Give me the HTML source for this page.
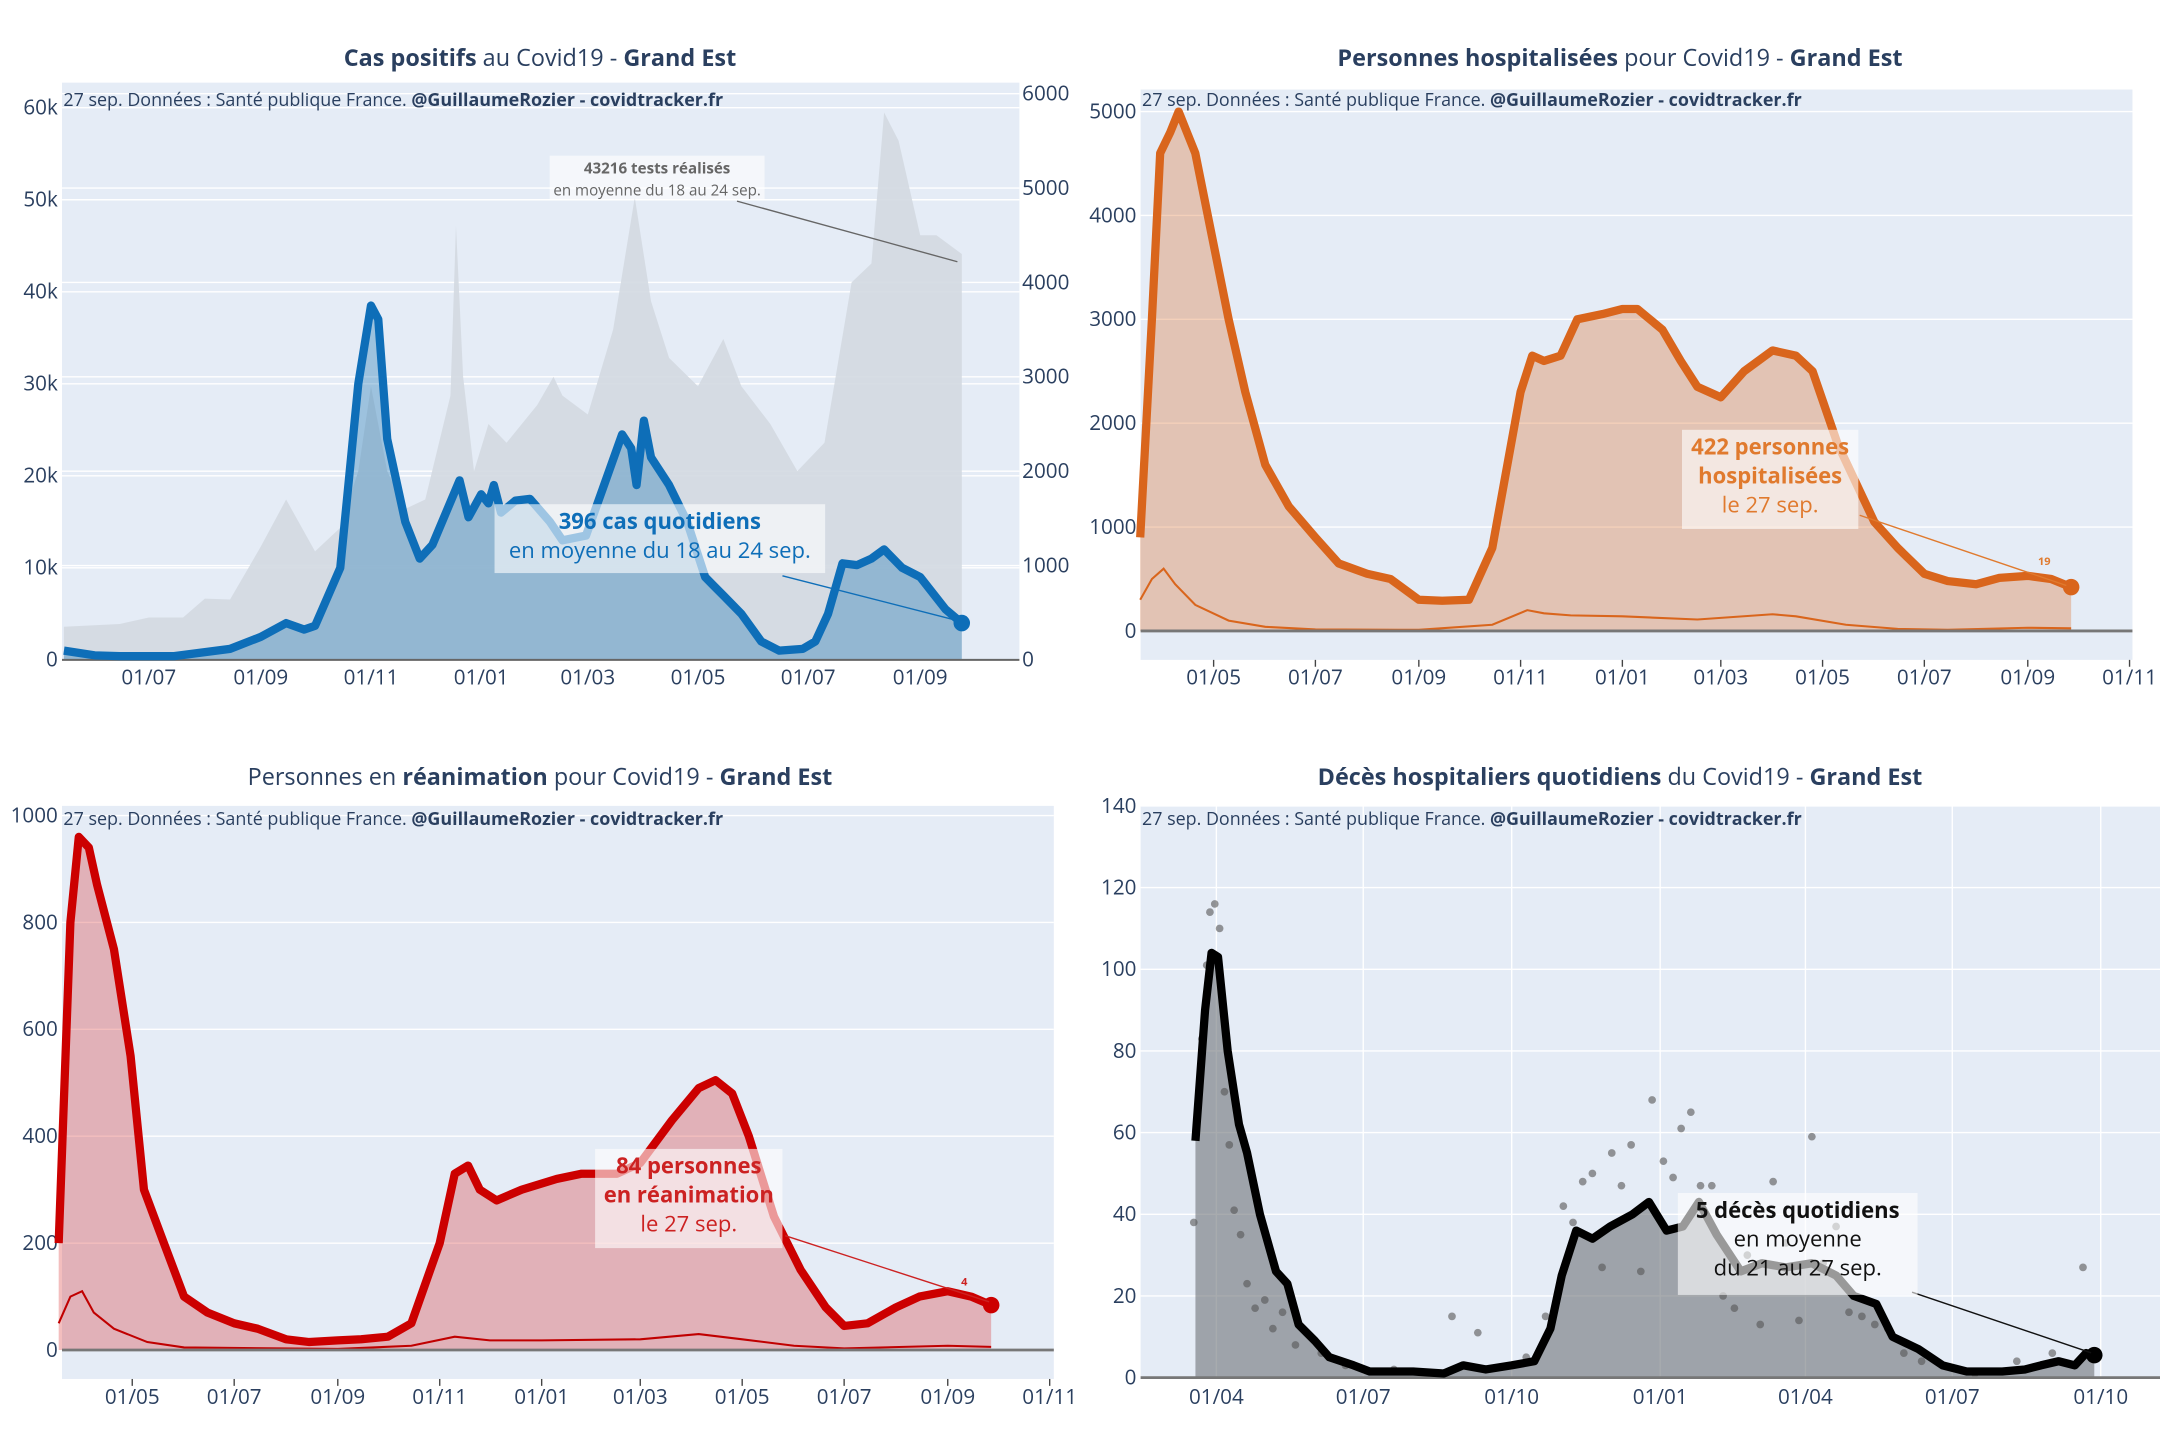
<!DOCTYPE html>
<html><head><meta charset="utf-8">
<style>
html,body{margin:0;padding:0;background:#fff;}
svg{display:block;font-family:"Open Sans","Liberation Sans",sans-serif;}
</style></head>
<body>
<svg id="root" width="2160" height="1440" viewBox="0 0 1568 1045.3" preserveAspectRatio="none" xmlns="http://www.w3.org/2000/svg"></svg>
<script>
// ---------- Chart 1 data: cas positifs ----------
const casDates = ["2020-05-15","2020-06-01","2020-06-15","2020-07-15","2020-08-15","2020-09-01","2020-09-15","2020-09-25","2020-10-01","2020-10-15","2020-10-25","2020-11-01","2020-11-05","2020-11-10","2020-11-20","2020-11-28","2020-12-05","2020-12-20","2020-12-25","2021-01-01","2021-01-05","2021-01-08","2021-01-12","2021-01-20","2021-01-28","2021-02-08","2021-02-15","2021-02-28","2021-03-10","2021-03-20","2021-03-25","2021-03-28","2021-04-01","2021-04-05","2021-04-15","2021-04-25","2021-05-05","2021-05-10","2021-05-15","2021-05-25","2021-06-05","2021-06-15","2021-06-28","2021-07-05","2021-07-12","2021-07-20","2021-07-28","2021-08-05","2021-08-12","2021-08-22","2021-09-01","2021-09-15","2021-09-24"];
const casValues = [1.0,0.5,0.4,0.4,1.2,2.5,4.0,3.3,3.7,10,30,38.5,37,24,15,11,12.5,19.5,15.5,18,17,19,16,17.3,17.5,15,13,13.5,19,24.5,23,19,26,22,19,15,9,8,7,5,2,1,1.2,2,5,10.5,10.3,11,12,10,9,5.5,4.0];
const testDates = ["2020-05-15","2020-06-15","2020-07-01","2020-07-20","2020-08-01","2020-08-15","2020-09-01","2020-09-15","2020-10-01","2020-10-15","2020-10-25","2020-11-01","2020-11-10","2020-11-20","2020-12-01","2020-12-15","2020-12-18","2020-12-22","2020-12-28","2021-01-05","2021-01-15","2021-02-01","2021-02-10","2021-02-15","2021-03-01","2021-03-15","2021-03-27","2021-04-05","2021-04-15","2021-05-01","2021-05-15","2021-05-25","2021-06-10","2021-06-25","2021-07-10","2021-07-25","2021-08-05","2021-08-12","2021-08-20","2021-09-01","2021-09-10","2021-09-24"];
const testValues = [350,380,450,450,650,640,1200,1700,1150,1400,2000,2900,2000,1600,1700,2800,4600,3000,2000,2500,2300,2700,3000,2800,2600,3500,4900,3800,3200,2900,3400,2900,2500,2000,2300,4000,4200,5800,5500,4500,4500,4300];
const casLeftTicks = ["0","10k","20k","30k","40k","50k","60k"];
const casRightTicks = ["0","1000","2000","3000","4000","5000","6000"];
const casXTicks = ["2020-07-01","2020-09-01","2020-11-01","2021-01-01","2021-03-01","2021-05-01","2021-07-01","2021-09-01"];

// ---------- Chart 2 data: hospitalisations ----------
const hospDates = ["2020-03-18","2020-03-25","2020-03-30","2020-04-05","2020-04-10","2020-04-20","2020-04-30","2020-05-10","2020-05-20","2020-06-01","2020-06-15","2020-07-01","2020-07-15","2020-08-01","2020-08-15","2020-09-01","2020-09-15","2020-10-01","2020-10-15","2020-11-01","2020-11-08","2020-11-15","2020-11-25","2020-12-05","2020-12-20","2021-01-01","2021-01-10","2021-01-25","2021-02-05","2021-02-15","2021-03-01","2021-03-15","2021-04-01","2021-04-15","2021-04-25","2021-05-10","2021-06-01","2021-06-15","2021-07-01","2021-07-15","2021-08-01","2021-08-15","2021-09-01","2021-09-15","2021-09-27"];
const hospValues = [900,3000,4600,4800,5000,4600,3800,3000,2300,1600,1200,900,650,550,500,300,290,300,800,2300,2650,2600,2650,3000,3050,3100,3100,2900,2600,2350,2250,2500,2700,2650,2500,1800,1050,800,550,480,450,510,530,500,422];
const hospNewDates = ["2020-03-18","2020-03-25","2020-04-01","2020-04-08","2020-04-20","2020-05-10","2020-06-01","2020-07-01","2020-09-01","2020-10-15","2020-11-05","2020-11-15","2020-12-01","2021-01-01","2021-02-15","2021-04-01","2021-04-15","2021-05-15","2021-06-15","2021-07-15","2021-09-01","2021-09-27"];
const hospNewValues = [300,500,600,450,250,100,40,15,10,60,200,170,150,140,110,160,140,60,20,10,30,25];
const hospYTicks = ["0","1000","2000","3000","4000","5000"];
const hospXTicks = ["2020-05-01","2020-07-01","2020-09-01","2020-11-01","2021-01-01","2021-03-01","2021-05-01","2021-07-01","2021-09-01","2021-11-01"];

// ---------- Chart 3 data: réanimation ----------
const reaDates = ["2020-03-18","2020-03-25","2020-03-30","2020-04-05","2020-04-10","2020-04-20","2020-04-30","2020-05-08","2020-05-20","2020-06-01","2020-06-15","2020-07-01","2020-07-15","2020-08-01","2020-08-15","2020-09-01","2020-09-15","2020-10-01","2020-10-15","2020-11-01","2020-11-10","2020-11-18","2020-11-25","2020-12-05","2020-12-20","2021-01-10","2021-01-25","2021-02-15","2021-03-01","2021-03-20","2021-04-05","2021-04-15","2021-04-25","2021-05-05","2021-05-20","2021-06-05","2021-06-20","2021-07-01","2021-07-15","2021-08-01","2021-08-15","2021-09-01","2021-09-15","2021-09-27"];
const reaValues = [200,800,960,940,870,750,550,300,200,100,70,50,40,20,15,18,20,25,50,200,330,345,300,280,300,320,330,330,350,430,490,505,480,400,250,150,80,45,50,80,100,110,100,84];
const reaNewDates = ["2020-03-18","2020-03-25","2020-04-01","2020-04-08","2020-04-20","2020-05-10","2020-06-01","2020-09-01","2020-10-15","2020-11-10","2020-12-01","2021-01-01","2021-03-01","2021-04-05","2021-05-01","2021-06-01","2021-07-01","2021-09-01","2021-09-27"];
const reaNewValues = [50,100,110,70,40,15,5,2,8,25,18,18,20,30,20,8,3,8,6];
const reaYTicks = ["0","200","400","600","800","1000"];
const reaXTicks = ["2020-05-01","2020-07-01","2020-09-01","2020-11-01","2021-01-01","2021-03-01","2021-05-01","2021-07-01","2021-09-01","2021-11-01"];

// ---------- Chart 4 data: décès ----------
const decesDates = ["2020-03-19","2020-03-25","2020-03-29","2020-04-02","2020-04-08","2020-04-15","2020-04-20","2020-04-28","2020-05-08","2020-05-15","2020-05-22","2020-06-01","2020-06-10","2020-06-25","2020-07-05","2020-08-01","2020-08-20","2020-09-01","2020-09-15","2020-10-01","2020-10-15","2020-10-25","2020-11-01","2020-11-10","2020-11-20","2020-12-01","2020-12-15","2020-12-25","2021-01-05","2021-01-15","2021-01-25","2021-02-05","2021-02-20","2021-03-05","2021-03-20","2021-04-05","2021-04-20","2021-05-01","2021-05-15","2021-05-25","2021-06-10","2021-06-25","2021-07-10","2021-08-01","2021-08-15","2021-08-25","2021-09-05","2021-09-15","2021-09-22","2021-09-27"];
const decesValues = [58,90,104,103,80,62,55,40,26,23,13,9,5,3,1.5,1.5,1,3,2,3,4,12,25,36,34,37,40,43,36,37,43,35,26,28,27,28,25,20,18,10,7,3,1.5,1.5,2,3,4,3,6,5.5];
const dotDates = ["2020-03-18","2020-03-20","2020-03-23","2020-03-26","2020-03-28","2020-03-31","2020-04-03","2020-04-06","2020-04-09","2020-04-12","2020-04-16","2020-04-20","2020-04-25","2020-05-01","2020-05-06","2020-05-12","2020-05-20","2020-06-05","2020-06-20","2020-07-20","2020-08-25","2020-09-10","2020-10-10","2020-10-22","2020-11-02","2020-11-08","2020-11-14","2020-11-20","2020-11-26","2020-12-02","2020-12-08","2020-12-14","2020-12-20","2020-12-27","2021-01-03","2021-01-09","2021-01-14","2021-01-20","2021-01-26","2021-02-02","2021-02-09","2021-02-16","2021-02-24","2021-03-04","2021-03-12","2021-03-20","2021-03-28","2021-04-05","2021-04-12","2021-04-20","2021-04-28","2021-05-06","2021-05-14","2021-05-22","2021-06-01","2021-06-12","2021-06-25","2021-07-15","2021-08-10","2021-09-01","2021-09-20"];
const dotValues = [38,63,83,101,114,116,110,70,57,41,35,23,17,19,12,16,8,6,3,2,15,11,5,15,42,38,48,50,27,55,47,57,26,68,53,49,61,65,47,47,20,17,30,13,48,33,14,59,28,37,16,15,13,12,6,4,3,1,4,6,27];
const decesYTicks = ["0","20","40","60","80","100","120","140"];
const decesXTicks = ["2020-04-01","2020-07-01","2020-10-01","2021-01-01","2021-04-01","2021-07-01","2021-10-01"];

const NS = "http://www.w3.org/2000/svg";
const root = document.getElementById('root');
const T0 = Date.parse("2020-03-01");
function day(s){return (Date.parse(s)-T0)/864e5;}
function mk(tag, attrs, parent, text){
  const e=document.createElementNS(NS,tag);
  for(const k in attrs) e.setAttribute(k,attrs[k]);
  if(text!==undefined) e.textContent=text;
  (parent||root).appendChild(e);
  return e;
}
const TXT="#2a3f5f";
function fmtTick(s){const p=s.split("-");return p[2]+"/"+p[1];}

function makeChart(c){
  const g=mk('g',{});
  
  
  const bg=mk('rect',{x:c.px0,y:c.py0,width:c.px1-c.px0,height:c.py1-c.py0,fill:"#e5ecf6"},g);
  
  
  const xs=d=>c.x0+(day(d)-c.d0)*c.k;
  const ys=v=>c.y0-v*c.ky;
  c.yTicks.forEach((t,i)=>{
    const y=c.y0-i*c.tickStep*c.ky;
    if(i>0) mk('line',{x1:c.px0,x2:c.px1,y1:y,y2:y,stroke:"#fff","stroke-width":1},g);
    const tl=mk('text',{x:c.px0-3,y:y+5,"text-anchor":"end","font-size":15,fill:TXT},g,t);
    
    
  });
  c.xTicks.forEach(t=>{
    const x=xs(t);
    if(c.vgrid) mk('line',{x1:x,x2:x,y1:c.py0,y2:c.py1,stroke:"#fff","stroke-width":1},g);
    if(c.xtickMarks) mk('line',{x1:x,x2:x,y1:c.py1,y2:c.py1+5,stroke:"#444","stroke-width":1},g);
    const tl=mk('text',{x:x,y:c.xLabelY,"text-anchor":"middle","font-size":15,fill:TXT},g,fmtTick(t));
    
    
  });
  return {g,xs,ys};
}
function pathOf(dates,vals,xs,ys){return dates.map((d,i)=>(i?"L":"M")+xs(d).toFixed(1)+","+ys(vals[i]).toFixed(1)).join("");}
function areaOf(dates,vals,xs,ys,y0){return pathOf(dates,vals,xs,ys)+"L"+xs(dates[dates.length-1]).toFixed(1)+","+y0+"L"+xs(dates[0]).toFixed(1)+","+y0+"Z";}
function title(x,y,parts){
  const t=mk('text',{x:x,y:y,"text-anchor":"middle","font-size":17,fill:TXT});
  
  
  parts.forEach(p=>mk('tspan',{"font-weight":p[1]?"bold":"normal"},t,p[0]));
}
function credit(x,y){
  const t=mk('text',{x:x,y:y,"font-size":13,fill:TXT});
  
  
  mk('tspan',{},t,"27 sep. Données : Santé publique France. ");
  mk('tspan',{"font-weight":"bold"},t,"@GuillaumeRozier - covidtracker.fr");
}
function annot(cx,top,w,h,lines,color,lx1,ly1,lx2,ly2,size){
  mk('line',{x1:lx1,y1:ly1,x2:lx2,y2:ly2,stroke:color,"stroke-width":1});
  const r=mk('rect',{x:cx-w/2,y:top,width:w,height:h,fill:"#fff","fill-opacity":0.6});
  
  
  lines.forEach((l,i)=>{
    const t=mk('text',{x:cx,y:top+size+2+i*(size+5),"text-anchor":"middle","font-size":size,fill:color,"font-weight":l[1]?"bold":"normal"},undefined,l[0]);
    
    
  });
}

// ===== Chart 1 =====
{
  const c={name:"cas-positifs-chart",px0:45,px1:740,py0:60,py1:479,x0:108,d0:day("2020-07-01"),k:1.3115,y0:479,ky:6.68,tickStep:10,yTicks:casLeftTicks,xTicks:casXTicks,xLabelY:497};
  const {g,xs,ys}=makeChart(c);
  const ysR=v=>479-v*0.0685;
  casRightTicks.forEach((t,i)=>{
    const y=479-i*1000*0.0685;
    if(i>0) mk('line',{x1:45,x2:740,y1:y,y2:y,stroke:"#fff","stroke-width":1},g);
    const tl=mk('text',{x:742,y:y+5,"font-size":15,fill:TXT},g,t);
    
    
  });
  const ta=mk('path',{d:areaOf(testDates,testValues,xs,ysR,479),fill:"#d3d9e1","fill-opacity":0.9},g);
  
  
  const ca=mk('path',{d:areaOf(casDates,casValues,xs,ys,479),fill:"#1f77b4","fill-opacity":0.36},g);
  
  
  mk('line',{x1:45,x2:740,y1:479,y2:479,stroke:"#666","stroke-width":1.5},g);
  const cl=mk('path',{d:pathOf(casDates,casValues,xs,ys),fill:"none",stroke:"#0e6eb8","stroke-width":6,"stroke-linejoin":"round"},g);
  
  
  const last=casDates.length-1;
  const dot=mk('circle',{cx:xs(casDates[last]),cy:ys(casValues[last]),r:6,fill:"#0e6eb8"},g);
  
  
  title(392,48,[["Cas positifs",1],[" au Covid19 - ",0],["Grand Est",1]]);
  credit(46,77);
  annot(477,113,156,32,[["43216 tests réalisés",1],["en moyenne du 18 au 24 sep.",0]],"#666",535,146,695,190,11);
  annot(479,366,240,50,[["396 cas quotidiens",1],["en moyenne du 18 au 24 sep.",0]],"#0e6eb8",568,418,697,451,16);
}
// ===== Chart 2 =====
{
  const c={name:"hospitalisations-chart",px0:828,px1:1548,py0:65,py1:479,x0:881,d0:day("2020-05-01"),k:1.2111,y0:458,ky:0.0754,tickStep:1000,yTicks:hospYTicks,xTicks:hospXTicks,xLabelY:497,xtickMarks:true};
  const {g,xs,ys}=makeChart(c);
  const a=mk('path',{d:areaOf(hospDates,hospValues,xs,ys,458),fill:"#d9651c","fill-opacity":0.3},g);
  
  
  const n=mk('path',{d:pathOf(hospNewDates,hospNewValues,xs,ys),fill:"none",stroke:"#d9651c","stroke-width":1.5},g);
  
  
  mk('line',{x1:828,x2:1548,y1:458,y2:458,stroke:"#777","stroke-width":2},g);
  const l=mk('path',{d:pathOf(hospDates,hospValues,xs,ys),fill:"none",stroke:"#d9651c","stroke-width":6,"stroke-linejoin":"round"},g);
  
  
  const last=hospDates.length-1;
  const dot=mk('circle',{cx:xs(hospDates[last]),cy:ys(hospValues[last]),r:6,fill:"#d9651c"},g);
  
  
  title(1176,48,[["Personnes hospitalisées",1],[" pour Covid19 - ",0],["Grand Est",1]]);
  credit(829,77);
  annot(1285,312,128,72,[["422 personnes",1],["hospitalisées",1],["le 27 sep.",0]],"#e07a2e",1350,374,1500,425,16);
  mk('text',{x:1484,y:410,"font-size":8,fill:"#e07a2e","font-weight":"bold","text-anchor":"middle"},undefined,"19");
}
// ===== Chart 3 =====
{
  const c={name:"reanimation-chart",px0:45,px1:765,py0:585,py1:1001,x0:96,d0:day("2020-05-01"),k:1.2131,y0:980,ky:0.388,tickStep:200,yTicks:reaYTicks,xTicks:reaXTicks,xLabelY:1019,xtickMarks:true};
  const {g,xs,ys}=makeChart(c);
  const a=mk('path',{d:areaOf(reaDates,reaValues,xs,ys,980),fill:"#d62728","fill-opacity":0.3},g);
  
  
  const n=mk('path',{d:pathOf(reaNewDates,reaNewValues,xs,ys),fill:"none",stroke:"#c00000","stroke-width":1.5},g);
  
  
  mk('line',{x1:45,x2:765,y1:980,y2:980,stroke:"#777","stroke-width":2},g);
  const l=mk('path',{d:pathOf(reaDates,reaValues,xs,ys),fill:"none",stroke:"#cc0000","stroke-width":6,"stroke-linejoin":"round"},g);
  
  
  const last=reaDates.length-1;
  const dot=mk('circle',{cx:xs(reaDates[last]),cy:ys(reaValues[last]),r:6,fill:"#cc0000"},g);
  
  
  title(392,570,[["Personnes en ",0],["réanimation",1],[" pour Covid19 - ",0],["Grand Est",1]]);
  credit(46,599);
  annot(500,834,136,72,[["84 personnes",1],["en réanimation",1],["le 27 sep.",0]],"#cc2222",570,897,718,945,16);
  mk('text',{x:700,y:933,"font-size":8,fill:"#cc2222","font-weight":"bold","text-anchor":"middle"},undefined,"4");
}
// ===== Chart 4 =====
{
  const c={name:"deces-chart",px0:828,px1:1568,py0:585,py1:1001,x0:883,d0:day("2020-04-01"),k:1.1715,y0:1000,ky:2.964,tickStep:20,yTicks:decesYTicks,xTicks:decesXTicks,xLabelY:1019,vgrid:true};
  const {g,xs,ys}=makeChart(c);
  const a=mk('path',{d:areaOf(decesDates,decesValues,xs,ys,1000),fill:"#6e7378","fill-opacity":0.6},g);
  
  
  dotDates.forEach((d,i)=>{
    const p=mk('circle',{cx:xs(d),cy:ys(dotValues[i]),r:2.8,fill:"#555","fill-opacity":0.6},g);
    
    
  });
  mk('line',{x1:828,x2:1568,y1:1000,y2:1000,stroke:"#777","stroke-width":2},g);
  const l=mk('path',{d:pathOf(decesDates,decesValues,xs,ys),fill:"none",stroke:"#000","stroke-width":6,"stroke-linejoin":"round"},g);
  
  
  const last=decesDates.length-1;
  const dot=mk('circle',{cx:xs(decesDates[last]),cy:ys(decesValues[last]),r:6,fill:"#000"},g);
  
  
  title(1176,570,[["Décès hospitaliers quotidiens",1],[" du Covid19 - ",0],["Grand Est",1]]);
  credit(829,599);
  annot(1305,866,174,74,[["5 décès quotidiens",1],["en moyenne",0],["du 21 au 27 sep.",0]],"#111",1388,938,1518,982,16);
}
</script>
</body></html>
